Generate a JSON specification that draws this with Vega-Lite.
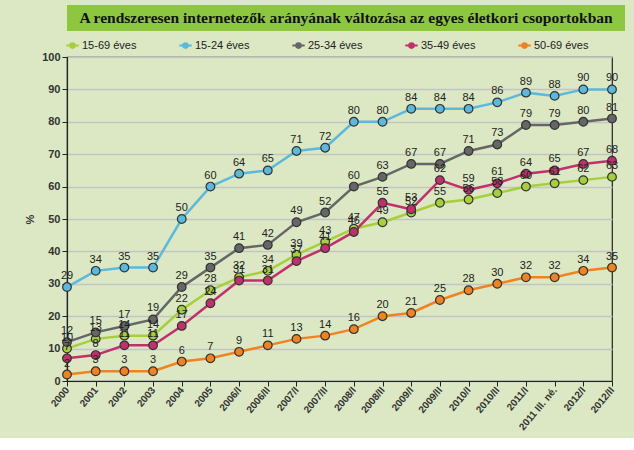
{
  "$schema": "https://vega.github.io/schema/vega-lite/v6.json",
  "background": "#dbe8c3",
  "padding": {"left": 24, "top": 5, "right": 9, "bottom": 5},
  "spacing": 8,
  "columns": 1,
  "align": "none",
  "resolve": {"legend": {"color": "independent"}},
  "config": {
    "font": "Liberation Sans",
    "view": {"stroke": null}
  },
  "concat": [
    {
      "width": 558,
      "height": 26,
      "view": {"fill": "#8dc63f", "stroke": null},
      "data": {"values": [{"title": "A rendszeresen internetezők arányának változása az egyes életkori csoportokban"}]},
      "mark": {"type": "text", "font": "Liberation Serif", "fontSize": 15.5, "fontWeight": "bold", "color": "#111111", "baseline": "middle"},
      "encoding": {"text": {"field": "title"}}
    },
    {
      "width": 545,
      "height": 324,
      "view": {"stroke": "#222222", "strokeWidth": 1.2},
      "data": {"values": [
        {"t": "2000", "15-69 éves": 10, "15-24 éves": 29, "25-34 éves": 12, "35-49 éves": 7, "50-69 éves": 2},
        {"t": "2001", "15-69 éves": 13, "15-24 éves": 34, "25-34 éves": 15, "35-49 éves": 8, "50-69 éves": 3},
        {"t": "2002", "15-69 éves": 14, "15-24 éves": 35, "25-34 éves": 17, "35-49 éves": 11, "50-69 éves": 3},
        {"t": "2003", "15-69 éves": 14, "15-24 éves": 35, "25-34 éves": 19, "35-49 éves": 11, "50-69 éves": 3},
        {"t": "2004", "15-69 éves": 22, "15-24 éves": 50, "25-34 éves": 29, "35-49 éves": 17, "50-69 éves": 6},
        {"t": "2005", "15-69 éves": 28, "15-24 éves": 60, "25-34 éves": 35, "35-49 éves": 24, "50-69 éves": 7},
        {"t": "2006/I", "15-69 éves": 32, "15-24 éves": 64, "25-34 éves": 41, "35-49 éves": 31, "50-69 éves": 9},
        {"t": "2006/II", "15-69 éves": 34, "15-24 éves": 65, "25-34 éves": 42, "35-49 éves": 31, "50-69 éves": 11},
        {"t": "2007/I", "15-69 éves": 39, "15-24 éves": 71, "25-34 éves": 49, "35-49 éves": 37, "50-69 éves": 13},
        {"t": "2007/II", "15-69 éves": 43, "15-24 éves": 72, "25-34 éves": 52, "35-49 éves": 41, "50-69 éves": 14},
        {"t": "2008/I", "15-69 éves": 47, "15-24 éves": 80, "25-34 éves": 60, "35-49 éves": 46, "50-69 éves": 16},
        {"t": "2008/II", "15-69 éves": 49, "15-24 éves": 80, "25-34 éves": 63, "35-49 éves": 55, "50-69 éves": 20},
        {"t": "2009/I", "15-69 éves": 52, "15-24 éves": 84, "25-34 éves": 67, "35-49 éves": 53, "50-69 éves": 21},
        {"t": "2009/II", "15-69 éves": 55, "15-24 éves": 84, "25-34 éves": 67, "35-49 éves": 62, "50-69 éves": 25},
        {"t": "2010/I", "15-69 éves": 56, "15-24 éves": 84, "25-34 éves": 71, "35-49 éves": 59, "50-69 éves": 28},
        {"t": "2010/II", "15-69 éves": 58, "15-24 éves": 86, "25-34 éves": 73, "35-49 éves": 61, "50-69 éves": 30},
        {"t": "2011/I", "15-69 éves": 60, "15-24 éves": 89, "25-34 éves": 79, "35-49 éves": 64, "50-69 éves": 32},
        {"t": "2011 III. né.", "15-69 éves": 61, "15-24 éves": 88, "25-34 éves": 79, "35-49 éves": 65, "50-69 éves": 32},
        {"t": "2012/I", "15-69 éves": 62, "15-24 éves": 90, "25-34 éves": 80, "35-49 éves": 67, "50-69 éves": 34},
        {"t": "2012/II", "15-69 éves": 63, "15-24 éves": 90, "25-34 éves": 81, "35-49 éves": 68, "50-69 éves": 35}
      ]},
      "transform": [
        {"fold": ["15-69 éves", "15-24 éves", "25-34 éves", "35-49 éves", "50-69 éves"], "as": ["g", "v"]}
      ],
      "encoding": {
        "x": {
          "field": "t", "type": "ordinal", "sort": null,
          "scale": {"type": "point", "padding": 0},
          "axis": {"title": null, "labelAngle": -50, "labelFontSize": 10, "labelFontWeight": "bold", "labelColor": "#333333", "domainColor": "#222222", "domainWidth": 1.2, "tickColor": "#222222", "tickSize": 5, "grid": false, "labelPadding": 2}
        },
        "y": {
          "field": "v", "type": "quantitative",
          "scale": {"domain": [0, 100]},
          "axis": {"title": "%", "titleFontSize": 11, "titleFontWeight": "bold", "titleColor": "#333333", "titlePadding": 6, "values": [0, 10, 20, 30, 40, 50, 60, 70, 80, 90, 100], "labelFontSize": 11, "labelFontWeight": "bold", "labelColor": "#333333", "domainColor": "#222222", "domainWidth": 1.2, "tickColor": "#222222", "tickSize": 5, "gridColor": "#c4c4c4", "gridWidth": 1.5}
        },
        "color": {
          "field": "g", "type": "nominal",
          "scale": {"domain": ["15-69 éves", "15-24 éves", "25-34 éves", "35-49 éves", "50-69 éves"], "range": ["#a6cf3b", "#5ab9dd", "#666666", "#c2306c", "#f0821f"]},
          "legend": {"title": null, "orient": "top", "direction": "horizontal", "labelFontSize": 11, "labelColor": "#222222", "columnPadding": 38, "symbolType": "M-1.6,0H-0.6M0.6,0H1.6M-0.6,0A0.6,0.6 0 1,1 0.6,0A0.6,0.6 0 1,1 -0.6,0Z", "symbolSize": 60, "symbolStrokeWidth": 2, "offset": 5, "padding": 0}
        }
      },
      "layer": [
        {"mark": {"type": "line", "strokeWidth": 2.5}},
        {"mark": {"type": "point", "filled": true, "size": 75, "stroke": "#333333", "strokeWidth": 1.2, "opacity": 1}},
        {"mark": {"type": "text", "dy": -11, "fontSize": 11}, "encoding": {"text": {"field": "v", "type": "quantitative"}, "color": {"value": "#222222"}}}
      ]
    }
  ]
}
